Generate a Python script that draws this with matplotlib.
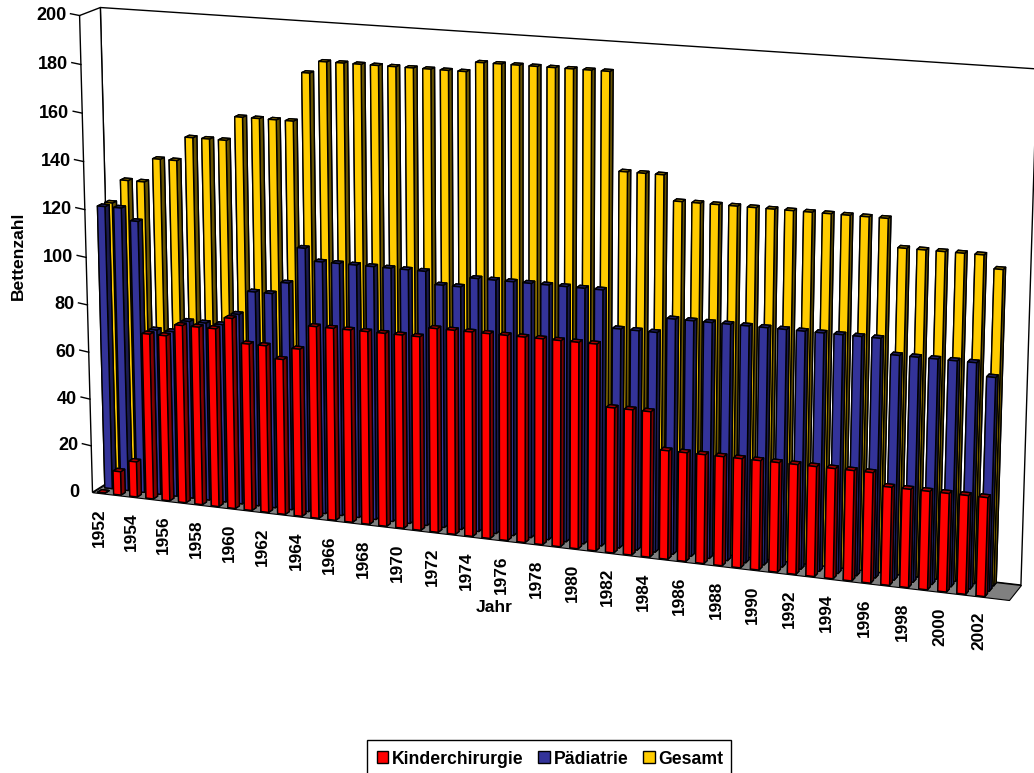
import matplotlib
matplotlib.use('Agg')
import matplotlib.pyplot as plt
import numpy as np
from matplotlib.patches import Patch, Rectangle
from mpl_toolkits.mplot3d.art3d import Poly3DCollection

plt.rcParams['font.family'] = ['Liberation Sans', 'DejaVu Sans']

years = list(range(1952, 2003))
kinderchirurgie = [0, 10, 15, 70, 70, 75, 75, 75, 80, 70, 70, 65, 70,
                   80, 80, 80, 80, 80, 80, 80,
                   84, 84, 84, 84, 84, 84, 84, 84, 84, 84,
                   59, 59, 59,
                   44, 44, 44, 44, 44, 44, 44, 44, 44, 44, 44, 44,
                   39, 39, 39, 39, 39, 39]
paediatrie = [120, 120, 115, 70, 70, 75, 75, 75, 80, 90, 90, 95, 110,
              105, 105, 105, 105, 105, 105, 105,
              100, 100, 104, 104, 104, 104, 104, 104, 104, 104,
              89, 89, 89,
              95, 95, 95, 95, 95, 95, 95, 95, 95, 95, 95, 95,
              89, 89, 89, 89, 89, 84]
gesamt = [120, 130, 130, 140, 140, 150, 150, 150, 160, 160, 160, 160, 180,
          185, 185, 185, 185, 185, 185, 185,
          185, 185, 189, 189, 189, 189, 189, 189, 189, 189,
          150, 150, 150,
          140, 140, 140, 140, 140, 140, 140, 140, 140, 140, 140, 140,
          129, 129, 129, 129, 129, 124]
value_ticks = list(range(0, 201, 20))

W, H = 1034, 773
n = len(years) + 1  # the category axis has one empty slot after 2002
depth = 3
vmax = 200

# corners of the chart box in the picture: (year slot, series slot, value) -> pixel
calib = [((0, depth, 0), (110, 482)), ((n, depth, 0), (1021, 583)),
         ((0, 0, 0), (95, 490)), ((n, 0, 0), (1009, 602)),
         ((0, depth, vmax), (103, 7)), ((n, depth, vmax), (1037, 69)),
         ((0, 0, vmax), (77, 16))]
rows, rhs = [], []
for (x, y, z), (u, v) in calib:
    rows.append([x, y, z, 1, 0, 0, 0, 0, -u * x, -u * y, -u * z])
    rhs.append(u)
    rows.append([0, 0, 0, 0, x, y, z, 1, -v * x, -v * y, -v * z])
    rhs.append(v)
h = np.linalg.lstsq(np.array(rows, float), np.array(rhs, float), rcond=None)[0]
ru, rv, rw = h[:4], h[4:8], np.append(h[8:], 1.0)


def to_pixel(x, y, z):
    p = np.array([x, y, z, 1.0])
    return ru @ p / (rw @ p), rv @ p / (rw @ p)


fig = plt.figure(figsize=(W / 100, H / 100), dpi=100)
ax = fig.add_axes([0, 0, 1, 1], projection='3d')
ax.set_axis_off()
ax.computed_zorder = False
ax.apply_aspect = lambda position=None: None


def get_proj():
    a = ax.transData.inverted().get_matrix()
    up = H * rw - rv
    return np.array([a[0, 0] * ru + a[0, 1] * up + a[0, 2] * rw,
                     a[1, 0] * ru + a[1, 1] * up + a[1, 2] * rw,
                     [-0.001, 1, -0.001, 0],
                     rw])


ax.get_proj = get_proj

# walls and floor
wall = [[(0, depth, 0), (n, depth, 0), (n, depth, vmax), (0, depth, vmax)],
        [(0, 0, 0), (0, depth, 0), (0, depth, vmax), (0, 0, vmax)]]
ax.add_collection3d(Poly3DCollection(wall, facecolor='white', edgecolor='black', linewidth=1.0, zorder=1))
floor = [[(0, 0, 0), (n, 0, 0), (n, depth, 0), (0, depth, 0)]]
ax.add_collection3d(Poly3DCollection(floor, facecolor='#808080', edgecolor='black', linewidth=0.8, zorder=2))

for t in value_ticks[1:-1]:
    ax.plot([0, 0, n], [0, depth, depth], [t, t, t], color='black', lw=0.9, zorder=1.5)
for t in value_ticks:
    ax.plot([-0.55, 0], [0, 0], [t + 0.5, t], color='black', lw=1.0, zorder=1.5)
    px, py = to_pixel(0, 0, t)
    fig.text((px - 13) / W, 1 - py / H, str(t), ha='right', va='center', fontsize=13, fontweight='bold')

series = [(gesamt, 2.58, ('#FFCC00', '#8C7000', '#665200')),
          (paediatrie, 1.5, ('#333399', '#1F1F66', '#1A1A4D')),
          (kinderchirurgie, 0.42, ('#FF0000', '#A60000', '#800000'))]
bar_w, bar_d = 0.46, 0.62
z = 3
for values, slot, (front, top, side) in series:
    for i, val in enumerate(values):
        col = [side, top, front, side, side, side]
        ax.bar3d(i + 0.5 - bar_w / 2, slot - bar_d / 2, 0, bar_w, bar_d, val,
                 color=col, edgecolor='black', linewidth=1.0, shade=False, zorder=z)
        z += 0.01

for i, y in enumerate(years):
    if i % 2 == 0:
        px, py = to_pixel(i + 0.5, 0, 0)
        fig.text((px - 1.5) / W, 1 - (py + 15) / H, str(y), rotation=90, ha='center', va='top',
                 fontsize=12.4, fontweight='bold')

fig.text(18 / W, 1 - 256 / H, 'Bettenzahl', rotation=90, ha='center', va='center', fontsize=12.6, fontweight='bold')
fig.text(494 / W, 1 - 608 / H, 'Jahr', ha='center', va='center', fontsize=12.6, fontweight='bold')

# legend frame runs past the bottom of the picture
fig.add_artist(Rectangle((367 / W, 1 - 782 / H), 364 / W, 42 / H, transform=fig.transFigure,
                         fill=False, edgecolor='black', linewidth=1.0))
handles = [Patch(facecolor='#FF0000', edgecolor='black', label='Kinderchirurgie'),
           Patch(facecolor='#333399', edgecolor='black', label='Pädiatrie'),
           Patch(facecolor='#FFCC00', edgecolor='black', label='Gesamt')]
fig.legend(handles=handles, ncol=3, loc='center', bbox_to_anchor=(550 / W, 1 - 759 / H),
           prop={'weight': 'bold', 'size': 12.7}, frameon=False, handlelength=0.65, handleheight=0.65,
           handletextpad=0.2, columnspacing=0.85, borderpad=0, borderaxespad=0)

fig.savefig('out.png', dpi=100)
